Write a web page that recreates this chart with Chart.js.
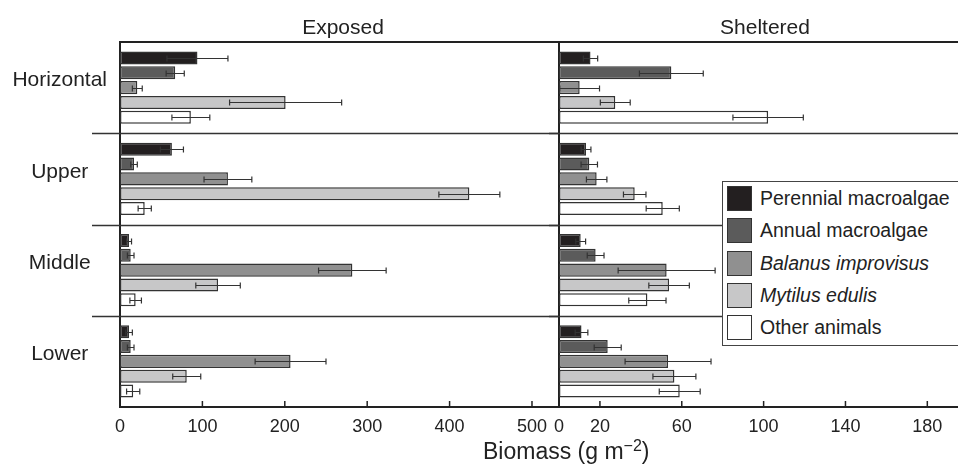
<!DOCTYPE html>
<html>
<head>
<meta charset="utf-8">
<script src="https://cdn.jsdelivr.net/npm/chart.js@4/dist/chart.umd.min.js"></script>
<style>
  body { margin: 0; background: #fff; overflow: hidden; }
  #wrap { position: relative; width: 958px; height: 465px; overflow: hidden; font-family: "Liberation Sans", Arial, sans-serif; color: #222; }
  canvas { position: absolute; top: 0; }
  .ptitle { position: absolute; top: 16px; width: 200px; text-align: center; font-size: 21px; line-height: 21px; }
  #xtitle { position: absolute; left: 483px; top: 440px; font-size: 23px; line-height: 23px; white-space: nowrap; }
  #xtitle sup { font-size: 16px; line-height: 0; vertical-align: 8px; }
  #legend { position: absolute; left: 722px; top: 181px; width: 270px; height: 165px; box-sizing: border-box;
            border: 1.5px solid #444; background: #fff; }
  .sw { position: absolute; left: 4px; width: 25px; height: 25px; box-sizing: border-box; border: 1.5px solid #333; }
  .lt { position: absolute; left: 37px; font-size: 19.5px; line-height: 25px; white-space: nowrap; }
</style>
</head>
<body>
<div id="wrap">
  <canvas id="exposedChart" width="560" height="465" style="left:0"></canvas>
  <canvas id="shelteredChart" width="413" height="465" style="left:545px"></canvas>
  <div class="ptitle" style="left:243px">Exposed</div>
  <div class="ptitle" style="left:665px">Sheltered</div>
  <div id="xtitle">Biomass (g m<sup>−2</sup>)</div>
  <div id="legend"></div>
</div>
<script>
const positions = ['Horizontal', 'Upper', 'Middle', 'Lower'];
const seriesNames = ['Perennial macroalgae', 'Annual macroalgae', 'Balanus improvisus', 'Mytilus edulis', 'Other animals'];
const italicNames = ['Balanus improvisus', 'Mytilus edulis'];
const exposedTicks = [0, 100, 200, 300, 400, 500];
const shelteredTicks = [0, 20, 60, 100, 140, 180];

// Exposed shores, mean and error per position
const exposedPerennial = [94, 63, 11, 11];
const exposedAnnual = [67, 17, 13, 13];
const exposedBalanus = [21, 131, 282, 207];
const exposedMytilus = [201, 424, 119, 81];
const exposedOther = [86, 30, 19, 16];
const exposedPerennialErr = [37, 14, 3, 4];
const exposedAnnualErr = [11, 4, 4, 4];
const exposedBalanusErr = [6, 29, 41, 43];
const exposedMytilusErr = [68, 37, 27, 17];
const exposedOtherErr = [23, 8, 7, 8];

// Sheltered shores
const shelteredPerennial = [15.4, 13.2, 10.6, 11];
const shelteredAnnual = [54.9, 14.8, 17.9, 23.8];
const shelteredBalanus = [10.1, 18.4, 52.6, 53.3];
const shelteredMytilus = [27.5, 37, 53.8, 56.4];
const shelteredOther = [102.2, 50.7, 43.2, 59];
const shelteredPerennialErr = [3.5, 2.4, 2.4, 3.1];
const shelteredAnnualErr = [15.6, 4, 4.1, 6.6];
const shelteredBalanusErr = [9.7, 5, 23.7, 21];
const shelteredMytilusErr = [7.3, 5.5, 9.9, 10.5];
const shelteredOtherErr = [17.2, 8.1, 9.1, 10];

const colors = ['#231f20', '#5b5b5b', '#909090', '#c7c7c8', '#ffffff'];
const fontFamily = '"Liberation Sans", Arial, sans-serif';
Chart.defaults.font.family = fontFamily;

// frame: top line, separators between positions, inward tick marks
const framePlugin = {
  id: 'frame',
  beforeDatasetsDraw(chart, args, opts) {
    const { ctx, chartArea: a, scales: { x, y } } = chart;
    ctx.save();
    ctx.strokeStyle = '#333';
    ctx.lineWidth = 1.3;
    for (let i = 0; i < positions.length - 1; i++) {
      const py = Math.round((y.getPixelForValue(i) + y.getPixelForValue(i + 1)) / 2) + 0.5;
      ctx.beginPath();
      ctx.moveTo(a.left - opts.sepLeft, py);
      ctx.lineTo(a.right, py);
      ctx.stroke();
    }
    ctx.strokeStyle = '#222';
    ctx.lineWidth = 2;
    ctx.beginPath();
    ctx.moveTo(a.left, a.top);
    ctx.lineTo(a.right, a.top);
    ctx.stroke();
    ctx.lineWidth = 1.5;
    x.ticks.forEach(t => {
      const px = x.getPixelForValue(t.value);
      ctx.beginPath();
      ctx.moveTo(px, a.bottom);
      ctx.lineTo(px, a.bottom - 6);
      ctx.stroke();
    });
    ctx.restore();
  }
};

const errorBarPlugin = {
  id: 'errorBars',
  afterDatasetsDraw(chart, args, opts) {
    const { ctx, scales: { x } } = chart;
    ctx.save();
    ctx.strokeStyle = '#333';
    ctx.lineWidth = 1.2;
    chart.data.datasets.forEach((ds, di) => {
      chart.getDatasetMeta(di).data.forEach((bar, i) => {
        const v = ds.data[i], e = opts.errors[di][i];
        const x0 = x.getPixelForValue(v - e), x1 = x.getPixelForValue(v + e);
        const py = Math.round(bar.y) + 0.5;
        ctx.beginPath();
        ctx.moveTo(x0, py); ctx.lineTo(x1, py);
        ctx.moveTo(x0, py - 3); ctx.lineTo(x0, py + 3);
        ctx.moveTo(x1, py - 3); ctx.lineTo(x1, py + 3);
        ctx.stroke();
      });
    });
    ctx.restore();
  }
};

function makeDatasets(series) {
  return series.map((data, i) => ({
    label: seriesNames[i],
    data: data,
    backgroundColor: colors[i],
    borderColor: '#333',
    borderWidth: 1.5,
    borderSkipped: false,
    categoryPercentage: 0.81,
    barPercentage: 0.88
  }));
}

function buildChart(id, series, errors, max, tickValues, showLabels) {
  return new Chart(document.getElementById(id), {
    type: 'bar',
    data: { labels: positions, datasets: makeDatasets(series) },
    plugins: [framePlugin, errorBarPlugin],
    options: {
      indexAxis: 'y',
      responsive: false,
      animation: false,
      layout: { padding: { top: 42, right: 0, left: 0, bottom: 0 } },
      plugins: {
        legend: { display: false },
        tooltip: { enabled: false },
        frame: { sepLeft: showLabels ? 28 : 10 },
        errorBars: { errors: errors }
      },
      scales: {
        x: {
          type: 'linear', min: 0, max: max,
          afterBuildTicks: s => { s.ticks = tickValues.map(v => ({ value: v })); },
          afterFit: s => { s.height = 58; },
          grid: { display: false, drawTicks: false },
          border: { display: true, color: '#222', width: 2 },
          ticks: { autoSkip: false, maxRotation: 0, padding: 9, color: '#222', font: { size: 18 } }
        },
        y: {
          afterFit: s => { s.width = showLabels ? 120 : 10; },
          grid: { display: false, drawTicks: false },
          border: { display: true, color: '#222', width: 2 },
          ticks: { display: showLabels, crossAlign: 'center', padding: 13, labelOffset: -7, color: '#222', font: { size: 21 } }
        }
      }
    }
  });
}

buildChart('exposedChart',
  [exposedPerennial, exposedAnnual, exposedBalanus, exposedMytilus, exposedOther],
  [exposedPerennialErr, exposedAnnualErr, exposedBalanusErr, exposedMytilusErr, exposedOtherErr],
  534, exposedTicks, true);

buildChart('shelteredChart',
  [shelteredPerennial, shelteredAnnual, shelteredBalanus, shelteredMytilus, shelteredOther],
  [shelteredPerennialErr, shelteredAnnualErr, shelteredBalanusErr, shelteredMytilusErr, shelteredOtherErr],
  195, shelteredTicks, false);

// legend
const legend = document.getElementById('legend');
seriesNames.forEach((name, i) => {
  const top = 4 + i * 32.3;
  const sw = document.createElement('div');
  sw.className = 'sw';
  sw.style.top = top + 'px';
  sw.style.background = colors[i];
  const lt = document.createElement('div');
  lt.className = 'lt';
  lt.style.top = top + 'px';
  if (italicNames.includes(name)) lt.style.fontStyle = 'italic';
  lt.textContent = name;
  legend.appendChild(sw);
  legend.appendChild(lt);
});
</script>
</body>
</html>
